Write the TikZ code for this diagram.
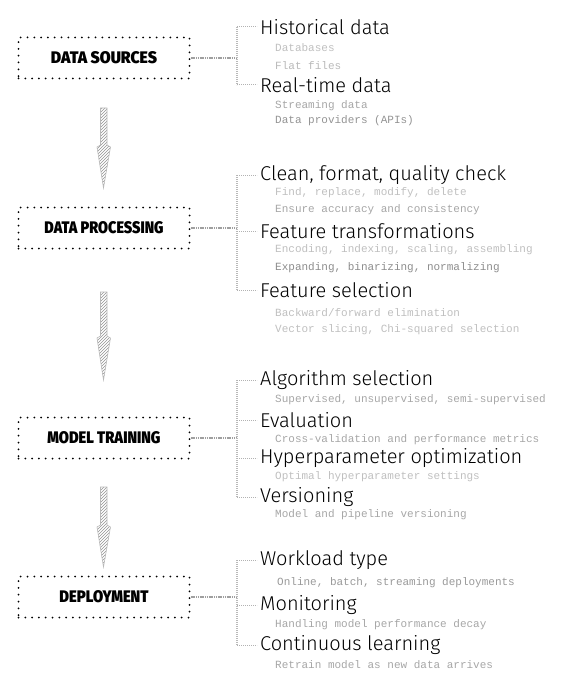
\documentclass[tikz,border=0pt]{standalone}
\usepackage{fontspec}
\setmainfont{Fira Sans}
\newfontfamily\itemfont{Fira Sans Light}
\newfontfamily\labelfont{Fira Sans Black}
\newfontfamily\monof{Liberation Mono}
\usepackage{graphicx}
\usetikzlibrary{patterns}
\begin{document}
\begin{tikzpicture}[x=1pt,y=-1pt,
 stagebox/.style={draw, line width=2pt, line cap=round, dash pattern=on 0pt off 6.8pt, minimum width=171pt, minimum height=41pt, inner sep=0},
 item/.style={anchor=west, inner sep=0, font=\itemfont\fontsize{20}{20}\selectfont},
 sub/.style={anchor=west, inner sep=0, font=\monof\fontsize{11}{11}\selectfont},
 conn/.style={draw=gray!75, line width=1.3pt, dash pattern=on 1.2pt off 0.6pt},
 brk/.style={draw=gray!55, line width=1.2pt, dash pattern=on 1.2pt off 0.8pt},
 tick/.style={draw=gray!60, line width=1pt, dash pattern=on 1.2pt off 0.8pt, shorten >=3pt},
 flowarrow/.style={pattern=north east lines, pattern color=gray!85, draw=gray!55, line width=0.6pt}]
\useasboundingbox (0,0) rectangle (566,687);

% stage boxes
\node[stagebox] (ds)  at (104,58)  {\resizebox{106pt}{12pt}{\labelfont DATA SOURCES}};
\node[stagebox] (dp)  at (104,228) {\resizebox{119pt}{12pt}{\labelfont DATA PROCESSING}};
\node[stagebox] (mt)  at (104,438) {\resizebox{113pt}{12pt}{\labelfont MODEL TRAINING}};
\node[stagebox] (dep) at (104,597) {\resizebox{89pt}{12pt}{\labelfont DEPLOYMENT}};

% flow arrows
\draw[flowarrow] (100.5,108) -- (107,108) -- (107,145) -- (110.5,147) -- (103.5,188) -- (97,147) -- (100.5,145) -- cycle;
\draw[flowarrow] (100.5,292) -- (107,292) -- (107,336) -- (110.5,338) -- (103.5,380) -- (97,338) -- (100.5,336) -- cycle;
\draw[flowarrow] (100.5,487) -- (107,487) -- (107,525) -- (110.5,527) -- (103.5,567) -- (97,527) -- (100.5,525) -- cycle;

% group 1
\node[item] (h)  at (260,27) {Historical data};
\node[sub, text=gray!50] (h1) at (275,48) {Databases};
\node[sub, text=gray!55] (h2) at (275,66) {Flat files};
\node[item] (r)  at (260,85) {Real-time data};
\node[sub, text=gray!70] (r1) at (275,106) {Streaming data};
\node[sub, text=gray!85] (r2) at (275,121) {Data providers (APIs)};
\coordinate (j1) at (237,58);
\draw[conn] (ds.east) -- (j1);
\draw[brk] (h.west -| j1) -- (r.west -| j1);
\draw[tick] (h.west -| j1) -- (h.west);
\draw[tick] (r.west -| j1) -- (r.west);

% group 2
\node[item] (c)  at (260,175) {Clean, format, quality check};
\node[sub, text=gray!50] (c1) at (275,193) {Find, replace, modify, delete};
\node[sub, text=gray!70] (c2) at (275,210) {Ensure accuracy and consistency};
\node[item] (f)  at (260,231) {Feature transformations};
\node[sub, text=gray!50] (f1) at (275,250) {Encoding, indexing, scaling, assembling};
\node[sub, text=gray!90] (f2) at (275,268) {Expanding, binarizing, normalizing};
\node[item] (s)  at (260,290) {Feature selection};
\node[sub, text=gray!50] (s1) at (275,313) {Backward/forward elimination};
\node[sub, text=gray!50] (s2) at (275,330) {Vector slicing, Chi-squared selection};
\coordinate (j2) at (237,228);
\draw[conn] (dp.east) -- (j2);
\draw[brk] (c.west -| j2) -- (s.west -| j2);
\draw[tick] (c.west -| j2) -- (c.west);
\draw[tick] (f.west -| j2) -- (f.west);
\draw[tick] (s.west -| j2) -- (s.west);

% group 3
\node[item] (a)  at (260,380) {Algorithm selection};
\node[sub, text=gray!70] (a1) at (275,400) {Supervised, unsupervised, semi-supervised};
\node[item] (e)  at (260,420) {Evaluation};
\node[sub, text=gray!70] (e1) at (275,440) {Cross-validation and performance metrics};
\node[item] (o)  at (260,458) {Hyperparameter optimization};
\node[sub, text=gray!50] (o1) at (275,477) {Optimal hyperparameter settings};
\node[item] (v)  at (260,497) {Versioning};
\node[sub, text=gray!70] (v1) at (275,515) {Model and pipeline versioning};
\coordinate (j3) at (237,438);
\draw[conn] (mt.east) -- (j3);
\draw[brk] (a.west -| j3) -- (v.west -| j3);
\draw[tick] (a.west -| j3) -- (a.west);
\draw[tick] (e.west -| j3) -- (e.west);
\draw[tick] (o.west -| j3) -- (o.west);
\draw[tick] (v.west -| j3) -- (v.west);

% group 4
\node[item] (w)  at (260,560) {Workload type};
\node[sub, text=gray!80] (w1) at (277,583) {Online, batch, streaming deployments};
\node[item] (m)  at (260,605) {Monitoring};
\node[sub, text=gray!70] (m1) at (275,625) {Handling model performance decay};
\node[item] (l)  at (260,645) {Continuous learning};
\node[sub, text=gray!70] (l1) at (275,665) {Retrain model as new data arrives};
\coordinate (j4) at (237,597);
\draw[conn] (dep.east) -- (j4);
\draw[brk] (w.west -| j4) -- (l.west -| j4);
\draw[tick] (w.west -| j4) -- (w.west);
\draw[tick] (m.west -| j4) -- (m.west);
\draw[tick] (l.west -| j4) -- (l.west);
\end{tikzpicture}
\end{document}
